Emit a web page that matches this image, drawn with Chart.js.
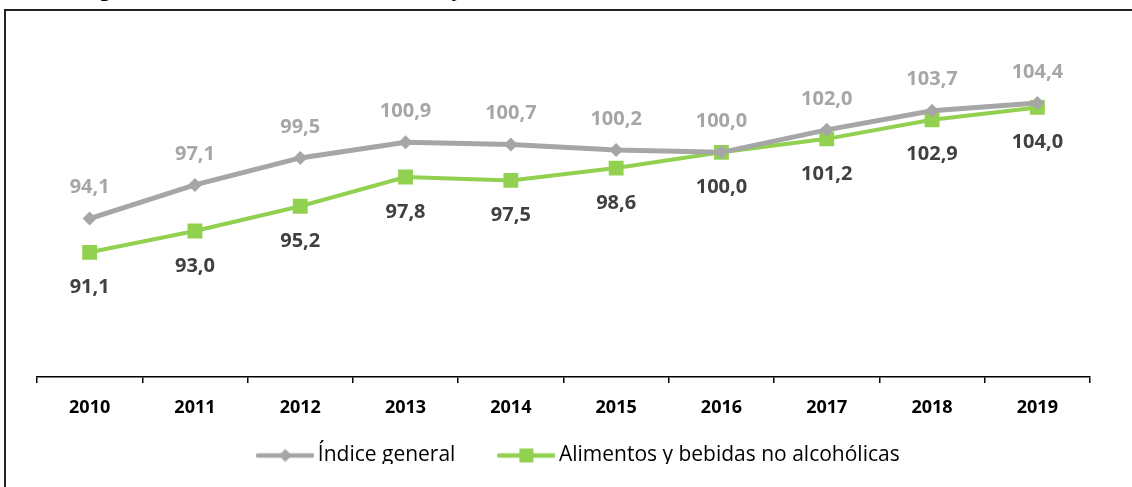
<!DOCTYPE html>
<html>
<head>
<meta charset="utf-8">
<script src="https://cdn.jsdelivr.net/npm/chart.js@4.4.1/dist/chart.umd.min.js"></script>
<style>
  html, body { margin: 0; padding: 0; background: #fff; overflow: hidden; }
  #wrap { position: relative; width: 1132px; height: 487px; overflow: hidden; }
  #title { position: absolute; left: 37px; top: -20px; font-family: "Open Sans", sans-serif; font-weight: bold; font-size: 19px; line-height: 19px; color: #000; white-space: nowrap; }
  #frame { position: absolute; left: 4px; top: 9px; width: 1200px; height: 600px; border: 2px solid #222; }
  canvas { position: absolute; left: 0; top: 0; }
</style>
</head>
<body>
<div id="wrap">
  <div id="title">Índice general del IPC e índice de alimentos y bebidas no alcohólicas</div>
  <div id="frame"></div>
  <canvas id="c" width="1132" height="487"></canvas>
</div>
<script>
const years = ['2010','2011','2012','2013','2014','2015','2016','2017','2018','2019'];
const indiceGeneral = [94.1, 97.1, 99.5, 100.9, 100.7, 100.2, 100.0, 102.0, 103.7, 104.4];
const alimentos = [91.1, 93.0, 95.2, 97.8, 97.5, 98.6, 100.0, 101.2, 102.9, 104.0];
const seriesNames = ['Índice general', 'Alimentos y bebidas no alcohólicas'];

const GREY = '#A6A6A6';
const GREEN = '#92D050';

function legendSample(color, style) {
  const cv = document.createElement('canvas');
  cv.width = 58; cv.height = 18;
  const g = cv.getContext('2d');
  g.strokeStyle = color; g.lineWidth = 4.5; g.lineCap = 'round';
  g.beginPath(); g.moveTo(2, 9); g.lineTo(56, 9); g.stroke();
  g.fillStyle = color;
  g.beginPath();
  if (style === 'diamond') {
    g.moveTo(29, 2.5); g.lineTo(35.5, 9); g.lineTo(29, 15.5); g.lineTo(22.5, 9); g.closePath();
  } else {
    g.rect(22, 2, 14, 14);
  }
  g.fill();
  return cv;
}
const samples = [legendSample(GREY, 'diamond'), legendSample(GREEN, 'square')];

const fmt = v => v.toFixed(1).replace('.', ',');

const labelPlugin = {
  id: 'valueLabels',
  afterDatasetsDraw(chart) {
    const ctx = chart.ctx;
    ctx.save();
    ctx.font = 'bold 20px "Open Sans"';
    ctx.textAlign = 'center';
    ctx.textBaseline = 'middle';
    chart.data.datasets.forEach((ds, di) => {
      const meta = chart.getDatasetMeta(di);
      meta.data.forEach((pt, i) => {
        if (di === 0) {
          ctx.fillStyle = GREY;
          ctx.fillText(fmt(ds.data[i]), pt.x, pt.y - 31);
        } else {
          ctx.fillStyle = '#404040';
          ctx.fillText(fmt(ds.data[i]), pt.x, pt.y + 35);
        }
      });
    });
    ctx.restore();
  }
};

const LEG_PAD = 49;
const shiftLegend = {
  id: 'shiftLegend',
  afterLayout(chart) {
    const L = chart.legend;
    L.left += 18; L.right += 18;
    const h = L.height;
    L.top = 456 - LEG_PAD - 11;
    L.bottom = L.top + h;
  }
};

new Chart(document.getElementById('c'), {
  type: 'line',
  data: {
    labels: years,
    datasets: [
      {
        label: seriesNames[0],
        data: indiceGeneral,
        borderColor: GREY,
        backgroundColor: GREY,
        borderWidth: 5,
        pointStyle: 'rectRot',
        pointRadius: 7,
        pointBorderWidth: 0,
        pointBackgroundColor: GREY,
        tension: 0
      },
      {
        label: seriesNames[1],
        data: alimentos,
        borderColor: GREEN,
        backgroundColor: GREEN,
        borderWidth: 4,
        pointStyle: 'rect',
        pointRadius: 10.5,
        pointBorderWidth: 0,
        pointBackgroundColor: GREEN,
        tension: 0
      }
    ]
  },
  options: {
    responsive: false,
    animation: false,
    devicePixelRatio: 1,
    layout: { padding: { left: 37, right: 42, top: 40, bottom: 0 } },
    scales: {
      x: {
        type: 'category',
        offset: true,
        grid: { offset: true, drawOnChartArea: false, drawTicks: true, tickLength: 6, color: '#000', lineWidth: 1.5 },
        border: { display: true, color: '#000', width: 1.5 },
        ticks: { color: '#000', font: { family: '"Open Sans"', size: 18, weight: 'bold' }, padding: 14, maxRotation: 0 },
        afterFit(scale) { scale.height = 42; }
      },
      y: {
        display: false,
        min: 80,
        max: 110
      }
    },
    plugins: {
      tooltip: { enabled: false },
      legend: {
        display: true,
        position: 'bottom',
        maxHeight: 68,
        labels: {
          usePointStyle: true,
          pointStyleWidth: 44,
          color: '#000',
          font: { family: '"Open Sans"', size: 21 },
          padding: LEG_PAD,
          generateLabels(chart) {
            return chart.data.datasets.map((ds, i) => ({
              text: ds.label,
              pointStyle: samples[i],
              fillStyle: ds.borderColor,
              strokeStyle: ds.borderColor,
              lineWidth: 0,
              hidden: false,
              datasetIndex: i,
              fontColor: '#000'
            }));
          }
        }
      }
    }
  },
  plugins: [labelPlugin, shiftLegend]
});
</script>
</body>
</html>
